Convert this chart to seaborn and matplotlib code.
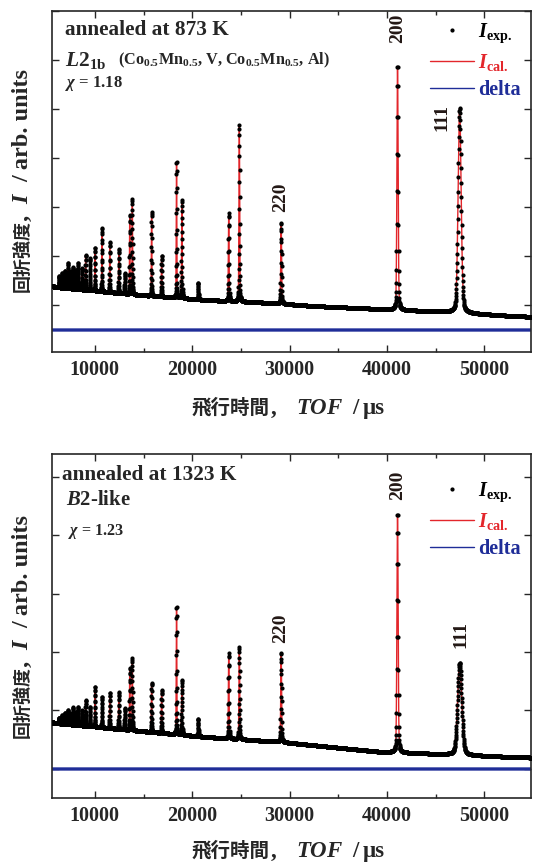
import numpy as np
import pandas as pd
import seaborn as sns
import matplotlib.pyplot as plt
from matplotlib.lines import Line2D

# ---- data (TOF in us, intensity in arb. units) ----
peak_tof = [6300, 6600, 6900, 7050, 7270, 7500, 7780, 8050, 8290, 8650, 9050, 9490,
            10000, 10720, 11530, 12460, 13070, 13580, 13850, 15830, 16860, 18390,
            18940, 20610, 23750, 24840, 29140, 41090, 47470]
apex_873 = [1600, 1650, 1700, 1640, 1857, 1700, 1776, 1720, 1857, 1750, 2020, 1959,
            2163, 2571, 2286, 2143, 1653, 2837, 3163, 2898, 2000, 3939,
            3143, 1449, 2878, 4673, 2673, 5900, 5020]
apex_1323 = [880, 920, 960, 900, 1009, 950, 1060, 980, 1060, 1000, 1179, 1060,
             1402, 1231, 1299, 1316, 1043, 1726, 1897, 1470, 1350, 2786,
             1521, 855, 1983, 2085, 1983, 4376, 1811]
# relative width factor (111 superlattice peak is broader)
width_873 = [1] * 28 + [2.2]
width_1323 = [1] * 28 + [3.0]

bg_tof_873 = [5600, 5900, 14600, 21400, 28200, 32400, 39200, 46100, 52800, 54800]
bg_873 = [1390, 1367, 1204, 1102, 1041, 980, 918, 857, 776, 760]
bg_tof_1323 = [5600, 5900, 14600, 21400, 29100, 39100, 52800, 54800]
bg_1323 = [800, 786, 650, 547, 462, 296, 205, 195]

delta_offset_873 = 490
delta_offset_1323 = 0

labels_873 = [('200', 41090, 6650), ('111', 45630, 4820), ('220', 29110, 3200)]
labels_1323 = [('200', 41090, 4855), ('111', 47600, 2300), ('220', 29040, 2410)]

RED = '#e3262b'
BLUE = '#1f2d98'
W, H = 533, 864


def profile(t, apex, widths, bg_t, bg_v):
    bg = np.interp(t, bg_t, bg_v)
    y = bg.copy()
    for p, a, w in zip(peak_tof, apex, widths):
        h = a - np.interp(p, bg_t, bg_v)
        fwhm = 0.0035 * p * w
        g = np.exp(-4 * np.log(2) * ((t - p) / fwhm) ** 2)
        lz = 1 / (1 + 4 * ((t - p) / fwhm) ** 2)
        y += h * (0.75 * g + 0.25 * lz)
    return y


# TOF bins of constant dt/t
tof = 5600 * np.exp(np.arange(0, np.log(54800 / 5600), 0.0004))

sns.set_style('ticks')
plt.rcParams['font.family'] = ['Liberation Serif', 'Noto Sans CJK JP']
plt.rcParams['font.weight'] = 'bold'
plt.rcParams['mathtext.fontset'] = 'custom'
plt.rcParams['mathtext.rm'] = 'Liberation Serif:bold'
plt.rcParams['mathtext.bf'] = 'Liberation Serif:bold'
plt.rcParams['mathtext.it'] = 'Liberation Serif:italic:bold'

fig = plt.figure(figsize=(W / 100, H / 100), dpi=100)
ax1 = fig.add_axes([52 / W, 1 - 352 / H, 479 / W, 341 / H])
ax2 = fig.add_axes([52 / W, 1 - 798 / H, 479 / W, 344 / H])

panels = [
    (ax1, apex_873, width_873, bg_tof_873, bg_873, delta_offset_873, labels_873, (41, 7000)),
    (ax2, apex_1323, width_1323, bg_tof_1323, bg_1323, delta_offset_1323, labels_1323, (-496, 5385)),
]

for ax, apex, widths, bgt, bgv, doff, labs, ylim in panels:
    calc = profile(tof, apex, widths, bgt, bgv)
    df = pd.DataFrame({'TOF': tof, 'Icalc': calc, 'Iexp': calc, 'delta': doff + calc - calc})
    sns.lineplot(data=df, x='TOF', y='Icalc', color=RED, lw=1.0, estimator=None, sort=False, ax=ax)
    sns.scatterplot(data=df, x='TOF', y='Iexp', color='black', s=9, linewidth=0, ax=ax, zorder=3)
    sns.lineplot(data=df, x='TOF', y='delta', color=BLUE, lw=2.4, estimator=None, sort=False, ax=ax)

    for txt, x, y in labs:
        ax.text(x, y, txt, rotation=90, ha='center', va='center', fontsize=14, color='#231815')

    ax.set_xlim(5600, 54800)
    ax.set_xticks([10000, 20000, 30000, 40000, 50000])
    ax.set_xticks(np.arange(10000, 55000, 5000), minor=True)
    ax.set_yticks(np.arange(0, 7001, 1000))
    ax.set_yticklabels([])
    ax.set_ylim(*ylim)
    ax.tick_params(which='both', direction='in', top=True, right=True, width=1.0)
    ax.tick_params(which='major', length=5, labelsize=14.5, pad=6)
    ax.tick_params(which='minor', length=3)
    for s in ax.spines.values():
        s.set_linewidth(1.2)
    ax.set_xlabel('')
    ax.set_ylabel('')

    handles = [Line2D([], [], marker='.', ms=4, ls='none', color='black'),
               Line2D([], [], color=RED, lw=1.0),
               Line2D([], [], color=BLUE, lw=1.0)]
    leg_y = 1.0 if ax is ax1 else 0.953
    ax.legend(handles, [r'$I_{\mathrm{exp.}}$', r'$I_{\mathrm{cal.}}$', 'delta'],
              loc='upper right', bbox_to_anchor=(1.0, leg_y), frameon=False,
              fontsize=14.5, handlelength=2.2, handletextpad=0.2, labelspacing=0.35,
              borderaxespad=0.1, labelcolor=['black', RED, BLUE])

# axis titles built from pieces (CJK text and Latin text)
cjk = ['Noto Sans CJK JP']


def piece(x, y, s, size, rot=0, **kw):
    fig.text(x / W, 1 - y / H, s, fontsize=size, rotation=rot, rotation_mode='anchor',
             ha='left', va='baseline', **kw)


for base_x, base_y in [(414, 0), (857, 446)]:
    # x label: baseline at row base_x
    piece(192, base_x, '飛行時間', 14, family=cjk)
    piece(271, base_x, ',', 16.5)
    piece(296, base_x, r'$TOF$', 16.5)
    piece(352, base_x, '/', 16.5)
    piece(363, base_x, 'μs', 16.5)
    # y label: rotated, baseline column at x = 28
    piece(28, 292 + base_y, '回折強度', 13, rot=90, family=cjk)
    piece(28, 221 + base_y, ',', 17.5, rot=90)
    piece(28, 204 + base_y, r'$I$', 17.5, rot=90)
    piece(28, 182 + base_y, '/ arb. units', 17.5, rot=90)

ax1.text(0.027, 0.944, 'annealed at 873 K', transform=ax1.transAxes, fontsize=15.3, va='center')
ax1.text(0.027, 0.856, r'$L\mathit{2}_{\mathrm{1b}}$', transform=ax1.transAxes, fontsize=15.5, va='center')
ax1.text(0.138, 0.856, r'(Co$_{0.5}$Mn$_{0.5}$, V, Co$_{0.5}$Mn$_{0.5}$, Al)', transform=ax1.transAxes,
         fontsize=11.7, va='center')
ax1.text(0.027, 0.786, r'$\chi$ = 1.18', transform=ax1.transAxes, fontsize=12, va='center')

ax2.text(0.021, 0.939, 'annealed at 1323 K', transform=ax2.transAxes, fontsize=15.3, va='center')
ax2.text(0.029, 0.866, r'$B$2-like', transform=ax2.transAxes, fontsize=14.9, va='center')
ax2.text(0.033, 0.776, r'$\chi$ = 1.23', transform=ax2.transAxes, fontsize=11.6, va='center')

fig.savefig('out.png', dpi=100)
